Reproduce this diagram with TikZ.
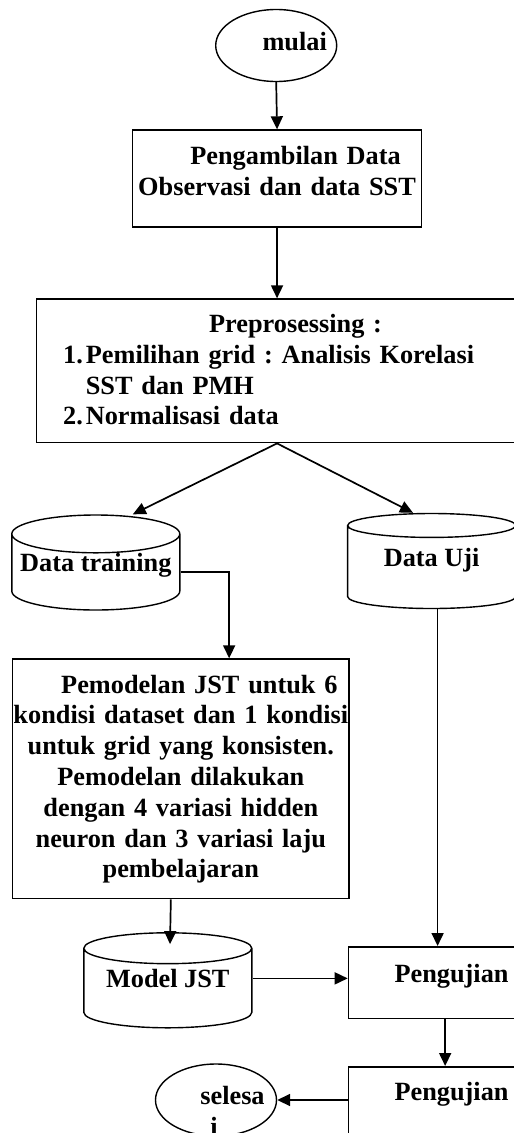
\documentclass[tikz,border=0pt]{standalone}
\usepackage{fontspec}
\setmainfont{Liberation Serif}
\usetikzlibrary{shapes.geometric,arrows.meta}

\tikzset{
  every node/.style={font=\fontsize{26.3}{30.8}\selectfont\bfseries\frenchspacing},
  proses/.style={draw, rectangle, line width=1.7pt, inner sep=0pt, align=center},
  terminal/.style={draw, ellipse, line width=1.4pt, minimum width=121pt, minimum height=72pt, inner sep=0pt},
  basisdata/.style={draw, cylinder, shape border rotate=90, aspect=0.25, line width=1.4pt,
    minimum width=168pt, minimum height=95pt, inner sep=0pt, text height=18pt, text depth=19pt},
}
\newcommand{\inden}{\hspace*{37pt}}

\begin{document}
\begin{tikzpicture}[>={Triangle[length=13pt,width=12pt]}, x=1pt, y=-1pt, line width=1.7pt]
  \useasboundingbox (0,0) rectangle (514,1133);
  \clip (0,0) rectangle (514,1133);
  \node[terminal, label={[xshift=18.5pt, yshift=4pt]center:mulai}] (mulai) at (276.2,45.5) {};
  \node[proses, anchor=north west, text width=289pt, text height=34.7pt, text depth=62pt] (ambil) at (131.7,129.3)
    {\inden Pengambilan Data\\Observasi dan data SST};
  \node[proses, anchor=north west, text width=481pt, text height=33.4pt, text depth=110pt, align=left] (prepro) at (35.7,298.3)
    {{\centering\inden Preprosessing :\par}
     \hspace*{26.6pt}\makebox[22.7pt][l]{1.}Pemilihan grid : Analisis Korelasi\\
     \hspace*{49.3pt}SST dan PMH\\
     \hspace*{26.6pt}\makebox[22.7pt][l]{2.}Normalisasi data};
  \node[basisdata, anchor=shape center] (training) at (95.8,562.5) {Data training};
  \node[basisdata, anchor=shape center] (uji) at (431.6,561) {Data Uji};
  \node[proses, anchor=north west, text width=336.6pt, text height=34pt, text depth=205.4pt] (jst) at (11.7,658.3)
    {\inden Pemodelan JST untuk 6\\\mbox{kondisi dataset dan 1 kondisi}\\untuk grid yang konsisten.\\Pemodelan dilakukan\\dengan 4 variasi hidden\\neuron dan 3 variasi laju\\pembelajaran};
  \node[basisdata, anchor=shape center] (modjst) at (167.8,980.3) {Model JST};
  \node[proses, anchor=north west, text width=206pt, text height=35.7pt, text depth=36pt] (uji1) at (347.7,946) {Pengujian};
  \node[proses, anchor=north west, text width=206pt, text height=34pt, text depth=38pt] (uji2) at (347.7,1066) {Pengujian};
  \node[terminal, label={[xshift=-2pt, yshift=-11pt, align=center]center:\inden selesa\\i}] (selesai) at (216,1100) {};
  \draw[->] (mulai.south) -- (ambil.north);
  \draw[->] (ambil.south) -- (prepro.north);
  \draw[->] (prepro.south) -- ([xshift=37pt]training.north);
  \draw[->] (prepro.south) -- ([xshift=-18.6pt]uji.north);
  \draw[->] (training.east) -| ([xshift=48.3pt]jst.north);
  \draw[->] ([xshift=6pt]uji.south) -- ([xshift=6pt]uji.south |- uji1.north);
  \draw[->] ([xshift=-10pt]jst.south) -- ([xshift=2.2pt,yshift=-12pt]modjst.north);
  \draw[->] ([yshift=10pt]modjst.east) -- ([yshift=10pt]modjst.east -| uji1.west);
  \draw[->] ([xshift=-6.4pt]uji1.south) -- ([xshift=-6.4pt]uji1.south |- uji2.north);
  \draw[->] (uji2.west |- selesai.east) -- (selesai.east);
\end{tikzpicture}
\end{document}
